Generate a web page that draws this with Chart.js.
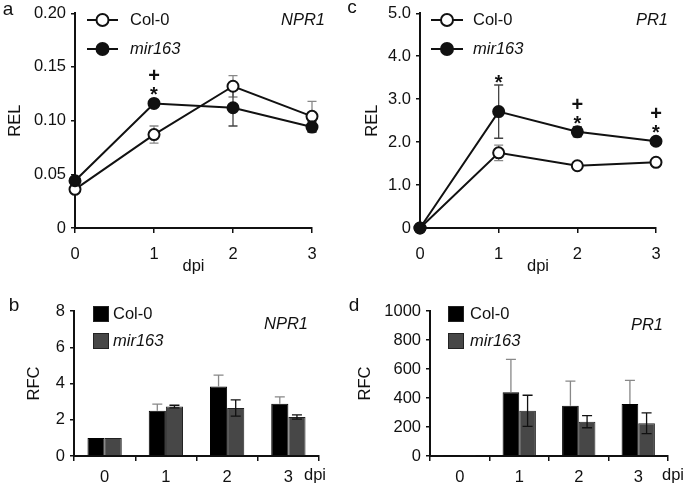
<!DOCTYPE html>
<html>
<head>
<meta charset="utf-8">
<script src="https://cdn.jsdelivr.net/npm/chart.js@4.4.1/dist/chart.umd.min.js"></script>
<style>
  body { margin: 0; background: #fff; width: 685px; height: 484px; position: relative; overflow: hidden; }
  canvas { position: absolute; }
</style>
</head>
<body>
<canvas id="panelB" width="340" height="214" style="left:0;top:270px"></canvas>
<canvas id="panelD" width="345" height="214" style="left:340px;top:270px"></canvas>
<canvas id="panelA" width="340" height="280" style="left:0;top:0"></canvas>
<canvas id="panelC" width="345" height="280" style="left:340px;top:0"></canvas>
<script>
// categories (days post inoculation)
const days = ['0', '1', '2', '3'];
const seriesNames = ['Col-0', 'mir163'];

// a: NPR1 relative expression level
const nprCol = [0.036, 0.087, 0.132, 0.104];
const nprColErr = [0.002, 0.008, 0.010, 0.014];
const nprMir = [0.044, 0.116, 0.112, 0.094];
const nprMirErr = [0.002, 0.003, 0.017, 0.005];
const nprSig = ['', '+*', '', ''];
const nprTicks = [0, 0.05, 0.10, 0.15, 0.20];
const nprTickLabels = ['0', '0.05', '0.10', '0.15', '0.20'];

// c: PR1 relative expression level
const pr1Col = [0, 1.75, 1.45, 1.53];
const pr1ColErr = [0, 0.18, 0.08, 0.05];
const pr1Mir = [0, 2.71, 2.24, 2.02];
const pr1MirErr = [0, 0.62, 0.12, 0.08];
const pr1Sig = ['', '*', '+*', '+*'];
const pr1Ticks = [0, 1, 2, 3, 4, 5];
const pr1TickLabels = ['0', '1.0', '2.0', '3.0', '4.0', '5.0'];

// b: NPR1 relative fold change
const nprFoldCol = [1, 2.49, 3.83, 2.88];
const nprFoldColErr = [0, 0.37, 0.63, 0.38];
const nprFoldMir = [1, 2.73, 2.65, 2.15];
const nprFoldMirErr = [0, 0.07, 0.45, 0.12];
const nprFoldTicks = [0, 2, 4, 6, 8];

// d: PR1 relative fold change
const pr1FoldCol = [1, 440, 347, 358];
const pr1FoldColErr = [0, 227, 170, 163];
const pr1FoldMir = [1, 312, 237, 226];
const pr1FoldMirErr = [0, 107, 42, 72];
const pr1FoldTicks = [0, 200, 400, 600, 800, 1000];

const FONT = 'Liberation Sans';
const tickFont = { family: FONT, size: 16.5, lineHeight: 1 };
const INK = '#111';

function yAxis(ticks, labels, width, title, titlePad) {
  return {
    min: ticks[0], max: ticks[ticks.length - 1],
    afterFit: s => { s.width = width; },
    afterBuildTicks: s => { s.ticks = ticks.map(v => ({ value: v })); },
    ticks: { color: INK, font: tickFont, padding: 5, callback: (v, i) => labels[i] },
    grid: { drawOnChartArea: false, drawTicks: true, tickLength: 4, color: INK, lineWidth: 1.5 },
    border: { display: true, color: INK, width: 2 },
    title: { display: true, text: title, color: INK, font: tickFont, padding: { top: titlePad, bottom: 0 } }
  };
}

function xAxis(height, pad, withTitle, offset, titleBottom) {
  return {
    offset: offset,
    afterFit: s => { s.height = height; },
    ticks: { color: INK, font: tickFont, padding: pad, maxRotation: 0 },
    grid: { offset: offset, drawOnChartArea: false, drawTicks: true, tickLength: 5, color: INK, lineWidth: 1.5 },
    border: { display: true, color: INK, width: 2 },
    title: { display: withTitle, text: 'dpi', color: INK, font: tickFont, padding: { top: 0, bottom: titleBottom || 0 } }
  };
}

function drawErrors(chart, cfg) {
  const ctx = chart.ctx, ys = chart.scales.y;
  cfg.errors.forEach((err, di) => {
    const meta = chart.getDatasetMeta(di);
    const vals = chart.data.datasets[di].data;
    ctx.save();
    ctx.strokeStyle = cfg.errColors[di];
    ctx.lineWidth = 1.3;
    meta.data.forEach((el, i) => {
      if (!err[i]) return;
      const x = el.x;
      const yt = ys.getPixelForValue(vals[i] + err[i]);
      const lower = cfg.upperOnly[di];
      const yb = lower ? ys.getPixelForValue(vals[i]) : ys.getPixelForValue(vals[i] - err[i]);
      ctx.beginPath();
      ctx.moveTo(x, yt); ctx.lineTo(x, yb);
      ctx.moveTo(x - cfg.cap, yt); ctx.lineTo(x + cfg.cap, yt);
      if (!lower) { ctx.moveTo(x - cfg.cap, yb); ctx.lineTo(x + cfg.cap, yb); }
      ctx.stroke();
    });
    ctx.restore();
  });
}

function decorate(cfg) {
  return {
    id: 'decorate',
    beforeDatasetsDraw(chart) { if (!cfg.errorsOnTop) drawErrors(chart, cfg); },
    afterDatasetsDraw(chart) { if (cfg.errorsOnTop) drawErrors(chart, cfg); },
    afterDraw(chart) {
      const ctx = chart.ctx;
      ctx.save();
      ctx.fillStyle = INK;
      ctx.textBaseline = 'middle';
      // panel letter
      ctx.font = '19px ' + FONT;
      ctx.textAlign = 'center';
      ctx.fillText(cfg.letter[0], cfg.letter[1], cfg.letter[2]);
      // gene name
      ctx.font = 'italic 16.5px ' + FONT;
      ctx.textAlign = 'right';
      ctx.fillText(cfg.gene[0], cfg.gene[1], cfg.gene[2]);
      // legend
      ctx.textAlign = 'left';
      const lg = cfg.legend;
      seriesNames.forEach((name, i) => {
        const ry = lg.y[i];
        const ds = chart.data.datasets[i];
        if (lg.type === 'line') {
          ctx.strokeStyle = INK; ctx.lineWidth = 2;
          ctx.beginPath(); ctx.moveTo(lg.x0, ry); ctx.lineTo(lg.x1, ry); ctx.stroke();
          ctx.beginPath(); ctx.arc((lg.x0 + lg.x1) / 2, ry, 6, 0, Math.PI * 2);
          ctx.fillStyle = ds.pointBackgroundColor; ctx.fill(); ctx.stroke();
        } else {
          ctx.fillStyle = ds.backgroundColor;
          ctx.fillRect(lg.x0, ry - 8, 16, 16);
          ctx.strokeStyle = '#222'; ctx.lineWidth = 1;
          ctx.strokeRect(lg.x0 + 0.5, ry - 7.5, 15, 15);
        }
        ctx.fillStyle = INK;
        ctx.font = (i === 1 ? 'italic ' : '') + '16.5px ' + FONT;
        ctx.fillText(name, lg.tx, ry);
      });
      // significance marks above the mir163 points
      if (cfg.sig) {
        const ys = chart.scales.y;
        const meta = chart.getDatasetMeta(1);
        const vals = chart.data.datasets[1].data;
        const err = cfg.errors[1];
        ctx.textAlign = 'center';
        ctx.textBaseline = 'alphabetic';
        ctx.font = 'bold 20px ' + FONT;
        cfg.sig.forEach((s, i) => {
          if (!s) return;
          const x = meta.data[i].x;
          const top = Math.min(ys.getPixelForValue(vals[i] + err[i]), ys.getPixelForValue(vals[i]) - 6);
          const starY = top - 8;
          if (s.includes('*')) ctx.fillText('*', x, starY + 12);
          if (s.includes('+')) ctx.fillText('+', x, starY - 14 + 7);
        });
      }
      // dpi label next to the bar chart axis
      if (cfg.dpi) {
        ctx.textAlign = 'center';
        ctx.textBaseline = 'middle';
        ctx.font = '16.5px ' + FONT;
        ctx.fillText('dpi', cfg.dpi[0], cfg.dpi[1]);
      }
      ctx.restore();
    }
  };
}

function lineChart(id, col, mir, colErr, mirErr, ticks, labels, yWidth, titlePad, padRight, deco) {
  const common = { borderColor: INK, borderWidth: 2, pointRadius: 5.5, pointHoverRadius: 5.5,
    pointBorderColor: INK, pointBorderWidth: 2, tension: 0, clip: false };
  deco.errors = [colErr, mirErr];
  deco.errColors = ['#888', '#444'];
  deco.upperOnly = [false, false];
  deco.cap = 4.5;
  deco.errorsOnTop = false;
  return new Chart(document.getElementById(id), {
    type: 'line',
    data: {
      labels: days,
      datasets: [
        Object.assign({ label: seriesNames[0], data: col, pointBackgroundColor: '#fff', order: 2 }, common),
        Object.assign({ label: seriesNames[1], data: mir, pointBackgroundColor: INK, order: 1 }, common)
      ]
    },
    options: {
      responsive: false, animation: false,
      layout: { padding: { left: 0, top: 7, right: padRight, bottom: 0 } },
      plugins: { legend: { display: false }, tooltip: { enabled: false } },
      scales: { x: xAxis(52, 13, true, false, 5.5), y: yAxis(ticks, labels, yWidth, 'REL', titlePad) }
    },
    plugins: [decorate(deco)]
  });
}

function barChart(id, col, mir, colErr, mirErr, ticks, yWidth, titlePad, padRight, deco) {
  deco.errors = [colErr, mirErr];
  deco.errColors = ['#888', '#111'];
  deco.upperOnly = [true, false];
  deco.cap = 5;
  deco.errorsOnTop = true;
  return new Chart(document.getElementById(id), {
    type: 'bar',
    data: {
      labels: days,
      datasets: [
        { label: seriesNames[0], data: col, backgroundColor: '#000', borderColor: '#000', borderWidth: 1,
          categoryPercentage: 0.56, barPercentage: 1 },
        { label: seriesNames[1], data: mir, backgroundColor: '#474747', borderColor: '#222', borderWidth: 1,
          categoryPercentage: 0.56, barPercentage: 1 }
      ]
    },
    options: {
      responsive: false, animation: false,
      layout: { padding: { left: 0, top: 41, right: padRight, bottom: 0 } },
      plugins: { legend: { display: false }, tooltip: { enabled: false } },
      scales: {
        x: xAxis(28, 8, false, true),
        y: yAxis(ticks, ticks.map(String), yWidth, 'RFC', titlePad)
      }
    },
    plugins: [decorate(deco)]
  });
}

lineChart('panelA', nprCol, nprMir, nprColErr, nprMirErr, nprTicks, nprTickLabels, 75, 7, 28, {
  letter: ['a', 8, 10], gene: ['NPR1', 325, 20],
  legend: { type: 'line', x0: 87, x1: 118, tx: 130, y: [20, 49] }, sig: nprSig
});
lineChart('panelC', pr1Col, pr1Mir, pr1ColErr, pr1MirErr, pr1Ticks, pr1TickLabels, 80, 24, 29, {
  letter: ['c', 12, 8], gene: ['PR1', 328, 20],
  legend: { type: 'line', x0: 91, x1: 123, tx: 133, y: [20, 49] }, sig: pr1Sig
});
barChart('panelB', nprFoldCol, nprFoldMir, nprFoldColErr, nprFoldMirErr, nprFoldTicks, 74, 26, 21, {
  letter: ['b', 14, 36], gene: ['NPR1', 308, 54],
  legend: { type: 'box', x0: 93, tx: 113, y: [44, 71] }, dpi: [315, 205]
});
barChart('panelD', pr1FoldCol, pr1FoldMir, pr1FoldColErr, pr1FoldMirErr, pr1FoldTicks, 90, 17, 17, {
  letter: ['d', 14, 36], gene: ['PR1', 323, 55],
  legend: { type: 'box', x0: 108, tx: 130, y: [44, 71] }, dpi: [333, 205]
});
</script>
</body>
</html>
